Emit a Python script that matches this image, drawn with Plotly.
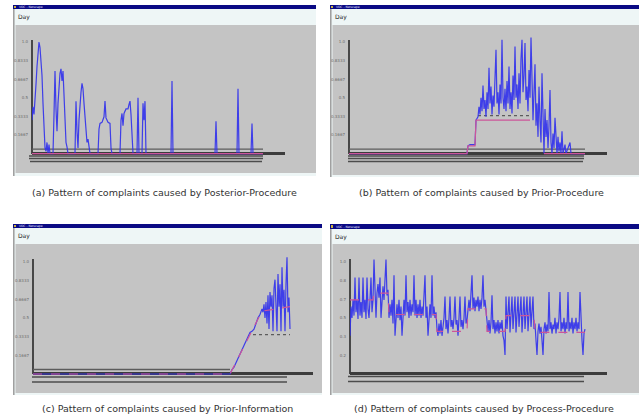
import plotly.graph_objects as go

W, H = 639, 416

# ---------------- data ----------------
# (a) Posterior-Procedure
a_days = [0, 1, 2, 3, 4, 5, 6, 7, 8, 9, 10, 11, 12, 13, 14, 15, 16, 17, 18, 19,
          21, 22, 23, 24, 25, 26, 27, 28, 29, 30, 31, 32, 33, 34, 35, 36,
          43, 44, 45, 46, 47, 48, 49, 50, 51, 52, 53, 54, 55, 56, 57, 58,
          66, 67, 68, 70, 72, 73, 74, 76, 78, 79, 80,
          88, 89, 90, 91, 92, 94, 96, 97, 98, 99, 100, 101,
          105, 106, 107, 110, 111, 112, 113, 114,
          139, 140, 141, 183, 184, 185, 205, 206, 207, 219, 220, 221, 231]
a_vals = [0.30, 0.42, 0.35, 0.55, 0.62, 0.78, 0.90, 1.00, 0.95, 0.85, 0.70, 0.45, 0.20, 0.05, 0.02, 0.10, 0.0, 0.08, 0.0, 0.0,
          0.0, 0.35, 0.74, 0.40, 0.20, 0.45, 0.60, 0.72, 0.76, 0.65, 0.74, 0.55, 0.35, 0.10, 0.06, 0.0,
          0.0, 0.47, 0.20, 0.05, 0.30, 0.45, 0.55, 0.63, 0.58, 0.45, 0.30, 0.22, 0.10, 0.13, 0.03, 0.0,
          0.0, 0.22, 0.27, 0.28, 0.33, 0.47, 0.32, 0.28, 0.27, 0.05, 0.0,
          0.0, 0.30, 0.36, 0.25, 0.36, 0.40, 0.40, 0.44, 0.47, 0.35, 0.10, 0.0,
          0.0, 0.50, 0.0, 0.0, 0.45, 0.30, 0.47, 0.0,
          0.0, 0.65, 0.0, 0.0, 0.29, 0.0, 0.0, 0.58, 0.0, 0.0, 0.27, 0.0, 0.0]
a_avg_days = [0, 231]
a_avg_vals = [0, 0]
a_band_days = [0, 231]
a_band_vals = [0.04, 0.04]

# (b) Prior-Procedure
b_lead_days = [0, 118, 119, 121, 126, 127]
b_lead_vals = [0.0, 0.0, 0.07, 0.08, 0.08, 0.30]
b_burst_vals = [0.33, 0.42, 0.35, 0.50, 0.38, 0.61, 0.40, 0.48, 0.33, 0.55,
                0.40, 0.77, 0.45, 0.60, 0.35, 0.52, 0.42, 0.70, 0.93, 0.45,
                0.55, 0.35, 0.62, 0.45, 1.02, 0.50, 0.40, 0.58, 0.38, 0.65,
                0.45, 0.78, 0.40, 0.55, 0.36, 0.70, 0.48, 0.96, 0.50, 0.62,
                0.40, 0.72, 0.45, 0.85, 1.02, 0.55, 0.70, 0.99, 0.48, 0.60,
                0.38, 0.75, 0.50, 1.04, 0.60, 0.30, 0.55, 0.80, 0.25, 0.45,
                0.15, 0.60, 0.30, 0.10, 0.72, 0.20, 0.0, 0.40, 0.15, 0.30,
                0.05, 0.25, 0.57, 0.10, 0.0, 0.18, 0.05, 0.32, 0.08, 0.0,
                0.15, 0.02, 0.10, 0.0, 0.20, 0.0]
b_tail_days = [216, 217, 221, 222, 236]
b_tail_vals = [0.08, 0.0, 0.10, 0.0, 0.0]
b_avg_days = [0, 118, 119, 126, 127, 181]
b_avg_vals = [0, 0, 0.07, 0.07, 0.30, 0.30]
b_base_days = [195, 236]
b_base_vals = [0, 0]
b_band_days = [0, 236]
b_band_vals = [0.04, 0.04]
b_upper_days = [129, 181]
b_upper_vals = [0.34, 0.34]

# (c) Prior-Information
c_stair_days = [0, 197, 199, 201, 203, 205, 207, 209, 211, 213, 215, 217, 219, 221, 223, 225, 227, 229]
c_stair_vals = [0.0, 0.0, 0.04, 0.06, 0.10, 0.14, 0.18, 0.22, 0.26, 0.29, 0.33, 0.37, 0.38, 0.40, 0.45, 0.50, 0.53, 0.58]
c_burst_vals = [0.55, 0.62, 0.50, 0.64, 0.45, 0.70, 0.40, 0.73, 0.60, 0.70,
                0.38, 0.76, 0.84, 0.50, 0.38, 0.89, 0.60, 0.80, 0.38, 0.95,
                0.60, 0.75, 0.38, 0.80, 1.04, 0.55, 0.68, 0.40]
c_avg_days = [0, 197, 229, 257]
c_avg_vals = [0, 0, 0.56, 0.60]
c_band_days = [0, 197]
c_band_vals = [0.04, 0.04]
c_low_days = [220, 257]
c_low_vals = [0.35, 0.35]

# (d) Process-Procedure
d_vals = [0.34, 0.60, 0.50, 0.66, 0.52, 0.86, 0.55, 0.66, 0.49, 0.86, 0.52, 0.64, 0.50, 0.86, 0.55, 0.66, 0.49, 0.86, 0.58, 0.50, 0.66, 0.86, 0.55, 0.66,
          1.02, 0.75, 0.50, 0.72, 0.80, 0.68, 0.86, 0.50, 0.70, 0.78, 0.66, 0.86, 1.02, 0.70, 0.75,
          0.50, 0.62, 0.52, 0.66, 0.45, 0.88, 0.34, 0.55, 0.62, 0.50, 0.66, 0.48, 0.60, 0.34, 0.58, 0.66, 0.52, 0.88, 0.55, 0.64, 0.50, 0.66, 0.52, 0.62,
          0.55, 0.88, 0.52, 0.66, 0.50, 0.62, 0.52, 0.66, 0.50, 0.60, 0.52, 0.66, 0.88, 0.50, 0.60, 0.34, 0.55, 0.62, 0.50, 0.88, 0.52, 0.60, 0.50, 0.55,
          0.40, 0.34, 0.45, 0.36, 0.48, 0.34, 0.42, 0.50, 0.69, 0.40, 0.48, 0.36, 0.50, 0.69, 0.42, 0.48, 0.40, 0.50, 0.69, 0.44, 0.48, 0.34, 0.50, 0.69,
          0.42, 0.48, 0.40, 0.50, 0.69, 0.45, 0.48,
          0.58, 0.66, 0.56, 0.70, 0.88, 0.58, 0.68, 0.56, 0.66, 0.60, 0.69, 0.56, 0.66, 0.58, 0.68, 0.88, 0.60, 0.66, 0.56,
          0.45, 0.38, 0.48, 0.36, 0.46, 0.70, 0.40, 0.48, 0.36, 0.46, 0.38, 0.48, 0.36, 0.46, 0.40, 0.48, 0.34, 0.30, 0.17,
          0.69, 0.40, 0.52, 0.69, 0.37, 0.55, 0.69, 0.40, 0.52, 0.69, 0.37, 0.55, 0.69, 0.42, 0.52, 0.69, 0.37, 0.55, 0.69, 0.40, 0.52, 0.69, 0.38, 0.55,
          0.69, 0.42, 0.52, 0.69, 0.40,
          0.45, 0.30, 0.17, 0.38, 0.45, 0.36, 0.42, 0.30, 0.17, 0.40, 0.46, 0.36, 0.44, 0.38, 0.73, 0.40, 0.46, 0.36, 0.44, 0.40, 0.50, 0.36, 0.46, 0.40,
          0.50, 0.73, 0.38, 0.46, 0.40, 0.50, 0.36, 0.46, 0.40, 0.73, 0.38, 0.46, 0.40, 0.50, 0.36, 0.46, 0.40, 0.50, 0.38, 0.46, 0.40, 0.73, 0.42, 0.30,
          0.17, 0.36, 0.40]
d_avg_days = [0, 23, 24, 38, 39, 86, 87, 117, 118, 136, 137, 155, 156, 184, 185, 235]
d_avg_vals = [0.66, 0.66, 0.72, 0.72, 0.53, 0.53, 0.38, 0.38, 0.58, 0.58, 0.38, 0.38, 0.52, 0.52, 0.37, 0.37]

tick_vals = [1.0, 5 / 6, 2 / 3, 0.5, 1 / 3, 1 / 6]
tick_text_long = ["1.0", "0.8333", "0.6667", "0.5", "0.3333", "0.1667"]
tick_text_short = ["1.0", "0.8", "0.7", "0.5", "0.3", "0.2"]

captions = ["(a) Pattern of complaints caused by Posterior-Procedure",
            "(b) Pattern of complaints caused by Prior-Procedure",
            "(c) Pattern of complaints caused by Prior-Information",
            "(d) Pattern of complaints caused by Process-Procedure"]

# ---------------- series assembly ----------------
b_days = b_lead_days + list(range(129, 129 + len(b_burst_vals))) + b_tail_days
b_vals = b_lead_vals + b_burst_vals + b_tail_vals
c_days = c_stair_days + list(range(230, 230 + len(c_burst_vals)))
c_vals = c_stair_vals + c_burst_vals
d_days = list(range(len(d_vals)))


def px(x):
    return x / W


def py(y):
    return 1 - y / H


BLUE = "rgba(50,50,235,0.92)"
PINK = "#cc5599"
GRAY_BAND = "#5c5c5c"

fig = go.Figure()

panels = [
    dict(x0=32, x1=285, xmax=253, y0=153.6, k=111.6, ticks=tick_text_long),
    dict(x0=349, x1=607, xmax=258, y0=153.6, k=111.6, ticks=tick_text_long),
    dict(x0=33, x1=313, xmax=280, y0=374.0, k=112.3, ticks=tick_text_long),
    dict(x0=350, x1=607, xmax=257, y0=374.0, k=112.3, ticks=tick_text_short),
]
vmin, vmax = -0.03, 1.07
for i, p in enumerate(panels, start=1):
    ytop = p["y0"] - p["k"] * vmax
    ybot = p["y0"] - p["k"] * vmin
    sfx = "" if i == 1 else str(i)
    fig.layout["xaxis" + sfx] = dict(domain=[px(p["x0"]), px(p["x1"])], range=[0, p["xmax"]],
                                     visible=False, anchor="y" + sfx)
    fig.layout["yaxis" + sfx] = dict(domain=[py(ybot), py(ytop)], range=[vmin, vmax],
                                     anchor="x" + sfx, showgrid=False, zeroline=False,
                                     showline=False, ticks="", tickvals=tick_vals,
                                     ticktext=p["ticks"], ticklabelstandoff=3,
                                     tickfont=dict(size=4, color="#6a6a6a", family="DejaVu Sans"))

series = [
    (1, a_days, a_vals, [(a_avg_days, a_avg_vals, "solid")],
     [(a_band_days, a_band_vals, "solid")]),
    (2, b_days, b_vals, [(b_avg_days, b_avg_vals, "solid"), (b_base_days, b_base_vals, "solid")],
     [(b_band_days, b_band_vals, "solid"), (b_upper_days, b_upper_vals, "dot")]),
    (3, c_days, c_vals, [(c_avg_days, c_avg_vals, "dash")],
     [(c_band_days, c_band_vals, "solid"), (c_low_days, c_low_vals, "dot")]),
    (4, d_days, d_vals, [(d_avg_days, d_avg_vals, "dash")], []),
]
for i, xs, ys, avgs, bands in series:
    sfx = "" if i == 1 else str(i)
    for bx, by, dash in bands:
        fig.add_trace(go.Scatter(x=bx, y=by, mode="lines", xaxis="x" + sfx, yaxis="y" + sfx,
                                 line=dict(color=GRAY_BAND, width=1.3, dash=dash), hoverinfo="skip"))
    fig.add_trace(go.Scatter(x=xs, y=ys, mode="lines", xaxis="x" + sfx, yaxis="y" + sfx,
                             line=dict(color=BLUE, width=1.2)))
    for ax_, ay_, dash in avgs:
        fig.add_trace(go.Scatter(x=ax_, y=ay_, mode="lines", xaxis="x" + sfx, yaxis="y" + sfx,
                                 line=dict(color=PINK, width=1.2, dash=dash), hoverinfo="skip"))

# ---------------- window decorations ----------------
shapes = []
annotations = []


def rect(x0, y0, x1, y1, color, layer="below"):
    shapes.append(dict(type="rect", xref="paper", yref="paper", x0=px(x0), x1=px(x1),
                       y0=py(y1), y1=py(y0), fillcolor=color, line=dict(width=0), layer=layer))


def hline(x0, x1, y, color, w, layer="below"):
    shapes.append(dict(type="line", xref="paper", yref="paper", x0=px(x0), x1=px(x1),
                       y0=py(y), y1=py(y), line=dict(color=color, width=w), layer=layer))


def vline(x, y0, y1, color, w, layer="below"):
    shapes.append(dict(type="line", xref="paper", yref="paper", x0=px(x), x1=px(x),
                       y0=py(y0), y1=py(y1), line=dict(color=color, width=w), layer=layer))


windows = [
    dict(x0=13, x1=316, top=5, bar=9, gy0=25, gy1=173, bottom=176),
    dict(x0=330, x1=639, top=5, bar=9, gy0=25, gy1=175, bottom=177),
    dict(x0=13, x1=322, top=224, bar=228, gy0=244, gy1=393, bottom=395),
    dict(x0=330, x1=639, top=224, bar=229, gy0=244, gy1=393, bottom=395),
]
for w in windows:
    rect(w["x0"], w["top"], w["x1"], w["bottom"], "#eef6f6")
    rect(w["x0"], w["top"], w["x1"], w["bar"], "#0a0a84")
    rect(w["x0"] + 1, w["top"] + 1, w["x0"] + 3, w["bar"] - 1, "#c8b040")
    rect(w["x0"] + 2.5, w["gy0"], w["x1"], w["gy1"], "#c4c4c4")
    vline(w["x0"] + 0.8, w["bar"], w["bottom"], "#9c9c9c", 1.5)
    annotations.append(dict(xref="paper", yref="paper", x=px(w["x0"] + 4), y=py((w["top"] + w["bar"]) / 2),
                            text="VOC - Netscape", showarrow=False, xanchor="left", yanchor="middle",
                            font=dict(size=3, color="#e8e8ff", family="DejaVu Sans")))
    annotations.append(dict(xref="paper", yref="paper", x=px(w["x0"] + 3), y=py(w["bar"] + 8),
                            text="Day", showarrow=False, xanchor="left", yanchor="middle",
                            font=dict(size=6, color="#222222", family="DejaVu Sans")))

axes_geo = [
    dict(yx=32, yt=40, yb=153, xe=285, xy=153.5, bars=[(29, 263, 156), (29, 263, 158.5), (30, 262, 161.5)]),
    dict(yx=349, yt=40, yb=153, xe=607, xy=153.5, bars=[(348, 584, 156), (348, 584, 158.5), (348, 583, 161.5)]),
    dict(yx=33, yt=259, yb=373, xe=313, xy=373.5, bars=[(32, 287, 377), (32, 287, 382)]),
    dict(yx=350, yt=259, yb=373, xe=607, xy=373.5, bars=[(348, 584, 376.5), (348, 584, 381.5)]),
]
for g in axes_geo:
    vline(g["yx"], g["yt"], g["yb"] + 1, "#3a3a3a", 1.8)
    hline(g["yx"], g["xe"], g["xy"], "#3c3c3c", 2.8)
    for x0, x1, y in g["bars"]:
        hline(x0, x1, y, "#4c4c4c", 1.4)

cap_pos = [(164, 192), (481, 192), (167, 408), (484, 408)]
for (cx, cy), text in zip(cap_pos, captions):
    annotations.append(dict(xref="paper", yref="paper", x=px(cx), y=py(cy), text=text,
                            showarrow=False, xanchor="center", yanchor="middle",
                            font=dict(size=9.5, color="#333333", family="DejaVu Sans")))

fig.update_layout(width=W, height=H, margin=dict(l=0, r=0, t=0, b=0),
                  paper_bgcolor="white", plot_bgcolor="rgba(0,0,0,0)",
                  showlegend=False, shapes=shapes, annotations=annotations)

fig.write_html("out.html", config={"displayModeBar": False},
               post_script="document.body.style.margin='0px';"
                           "document.documentElement.style.overflow='hidden';")
